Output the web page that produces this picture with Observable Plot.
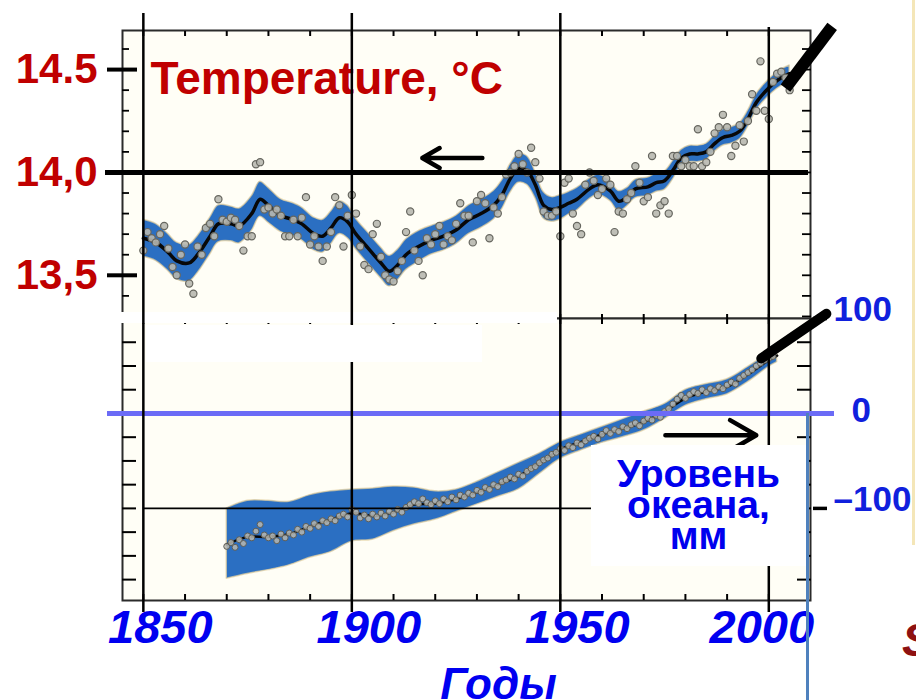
<!DOCTYPE html>
<html>
<head>
<meta charset="utf-8">
<script src="https://cdn.jsdelivr.net/npm/d3@7"></script>
<script src="https://cdn.jsdelivr.net/npm/@observablehq/plot@0.6"></script>
<style>
  html, body { margin: 0; padding: 0; background: #fff; }
  #wrap { position: relative; width: 916px; height: 700px; overflow: hidden; font-family: "Liberation Sans", Arial, sans-serif; }
  #wrap svg { position: absolute; left: 0; top: 0; }
  .ov { position: absolute; }
  .white { background: #fff; }
  #seaBox { left: 591px; top: 445px; width: 215px; height: 121px; background: #fff; color: #0000ee;
            font: bold 39px/31px "Liberation Sans", Arial, sans-serif; text-align: center; padding-top: 13px; box-sizing: border-box; }
  #blueEdge { left: 806px; top: 413px; width: 3px; height: 287px; background: #4f81bd; }
  #beige { left: 912px; top: 0; width: 3px; height: 545px; background: #f4e6b8; }
  #cutS { left: 902px; top: 612px; color: #8e1111; font: italic bold 47px "Liberation Sans", Arial, sans-serif; }
</style>
</head>
<body>
<div id="wrap"></div>
<script>
// ================= DATA =================
// Years shown along the shared time axis
const gridYears = [1850, 1900, 1950, 2000];
const decadeTicks = [1850, 1860, 1870, 1880, 1890, 1900, 1910, 1920, 1930, 1940, 1950, 1960, 1970, 1980, 1990, 2000];

// Temperature panel (°C)
const tempTicks = [13.5, 14.0, 14.5];
const tempTickLabels = ["13,5", "14,0", "14.5"];
const tempMinorTicks = [13.3, 13.4, 13.5, 13.6, 13.7, 13.8, 13.9, 14.0, 14.1, 14.2, 14.3, 14.4, 14.5, 14.6];
const tempYears = d3.range(1850, 2006);
const tempAnnual = [
  13.62,13.71,13.68,13.66,13.70,13.74,13.63,13.54,13.50,13.60,
  13.65,13.46,13.41,13.64,13.60,13.73,13.75,13.69,13.87,13.77,
  13.76,13.78,13.77,13.74,13.62,13.69,13.69,14.04,14.05,13.82,
  13.83,13.80,13.82,13.79,13.69,13.69,13.77,13.69,13.78,13.88,
  13.65,13.69,13.64,13.57,13.64,13.71,13.88,13.84,13.64,13.79,
  13.89,13.80,13.64,13.55,13.53,13.70,13.75,13.59,13.50,13.48,
  13.47,13.52,13.57,13.71,13.81,13.62,13.57,13.50,13.68,13.65,
  13.70,13.74,13.65,13.69,13.67,13.75,13.85,13.79,13.79,13.66,
  13.86,13.89,13.85,13.68,13.83,13.80,13.88,13.99,14.00,14.03,
  14.09,14.04,14.00,14.12,14.05,13.97,13.81,13.79,13.79,13.81,
  13.69,13.95,13.97,13.80,13.74,13.70,13.94,14.00,13.96,13.89,
  13.92,13.97,13.94,13.71,13.81,13.80,13.87,13.90,14.03,13.95,
  13.86,13.88,14.08,13.80,13.84,13.86,13.80,14.08,14.08,14.03,
  14.06,14.03,14.03,14.21,14.03,14.05,14.10,14.19,14.22,14.28,
  14.22,14.08,14.13,14.23,14.15,14.25,14.38,14.30,14.54,14.30,
  14.26,14.44,14.48,14.49,14.46,14.40
];
const tempSmoothYears = [
  1850,1853,1856,1858,1861,1863,1866,1868,1871,1873,
  1876,1878,1880,1883,1886,1888,1891,1893,1895,1897,
  1899,1901,1904,1907,1909,1911,1913,1916,1919,1922,
  1925,1928,1931,1934,1936,1938,1940,1942,1944,1946,
  1948,1950,1952,1954,1957,1959,1962,1964,1966,1968,
  1971,1973,1975,1977,1979,1981,1983,1985,1987,1989,
  1991,1993,1995,1997,1999,2001,2003,2005
];
const tempSmooth = [
  13.68,13.66,13.61,13.57,13.56,13.60,13.69,13.75,13.75,13.74,
  13.80,13.87,13.84,13.79,13.77,13.75,13.70,13.69,13.73,13.78,
  13.76,13.70,13.63,13.56,13.52,13.55,13.60,13.64,13.67,13.69,
  13.72,13.77,13.80,13.84,13.89,13.97,14.02,14.01,13.94,13.84,
  13.82,13.83,13.85,13.87,13.92,13.94,13.91,13.86,13.88,13.92,
  13.93,13.95,13.96,14.01,14.07,14.09,14.09,14.10,14.14,14.17,
  14.18,14.20,14.26,14.34,14.39,14.43,14.46,14.48
];
const tempSpread = [
  0.09,0.09,0.09,0.09,0.09,0.09,0.09,0.09,0.085,0.085,
  0.085,0.085,0.085,0.08,0.08,0.08,0.08,0.08,0.08,0.08,
  0.08,0.075,0.075,0.075,0.075,0.075,0.075,0.075,0.07,0.07,
  0.07,0.07,0.07,0.07,0.07,0.07,0.07,0.07,0.065,0.065,
  0.06,0.06,0.055,0.055,0.05,0.05,0.05,0.05,0.045,0.045,
  0.045,0.045,0.045,0.045,0.04,0.04,0.04,0.04,0.04,0.04,
  0.04,0.04,0.04,0.04,0.04,0.04,0.04,0.04
];

// Sea level panel (mm)
const seaLabelValues = [100, -100];
const seaLabelTexts = ["100", "\u2013100"];
const seaZeroLabel = ["0"];
const seaMinorTicks = [-175, -150, -125, -100, -75, -50, -25, 0, 25, 50, 75];
const seaYears = d3.range(1870, 2002);
const seaAnnual = [
  -140,-136,-141,-133,-137,-129,-131,-124,-117,-128,
  -131,-129,-134,-127,-131,-126,-128,-122,-125,-119,
  -121,-116,-119,-113,-115,-111,-113,-108,-106,-109,
  -101,-104,-110,-107,-111,-106,-109,-105,-108,-103,
  -106,-101,-104,-99,-96,-93,-95,-90,-94,-96,
  -92,-95,-90,-93,-88,-91,-86,-88,-84,-86,
  -81,-83,-78,-80,-75,-77,-72,-70,-67,-69,
  -64,-66,-61,-58,-56,-52,-49,-47,-43,-41,
  -37,-39,-34,-36,-31,-33,-29,-26,-24,-27,
  -22,-18,-21,-17,-19,-14,-16,-12,-10,-13,
  -8,-5,-7,-2,-4,2,5,10,15,19,
  16,20,23,21,25,22,26,24,28,26,
  30,33,31,37,40,43,46,50,53,56,
  58,60
];
const seaSmoothYears = [1870,1875,1880,1885,1890,1895,1900,1905,1910,1915,1920,1925,1930,1935,1940,1945,1950,1955,1960,1965,1970,1975,1980,1985,1990,1995,2000,2002];
const seaSmooth =      [-138,-130,-130,-127,-119,-112,-105,-108,-104,-96,-95,-90,-83,-75,-66,-52,-38,-30,-22,-16,-9,2,16,23,28,41,56,61];
const seaHigh =        [-100,-92,-92,-93,-86,-82,-80,-79,-77,-78,-82,-80,-72,-62,-52,-42,-30,-22,-14,-6,2,10,25,31,36,49,63,68];
const seaLow =         [-174,-169,-165,-160,-152,-146,-135,-133,-124,-117,-112,-104,-96,-88,-80,-64,-48,-39,-31,-25,-18,-6,8,15,20,33,49,54];

// Annotations (in data units of each panel)
const tempArrow = [{from: 1931.3, to: 1916.9, at: 14.07}];
const tempPointer = [{x1: 2004.0, y1: 14.41, x2: 2015.2, y2: 14.71}];
const seaArrow = [{from: 1975.2, to: 1997.0, at: -23}];
const seaPointer = [{x1: 1998.2, y1: 58, x2: 2013.8, y2: 105}];
const seaRefLine = [{v: -100, from: 1850, to: 1960}];

// ================= TABLES =================
const tempPts = tempYears.map((year, i) => ({year, t: tempAnnual[i]}));
const tempCurve = tempSmoothYears.map((year, i) => ({year, t: tempSmooth[i], lo: tempSmooth[i] - tempSpread[i], hi: tempSmooth[i] + tempSpread[i]}));
const tempLabels = tempTicks.map((v, i) => ({v, label: tempTickLabels[i]}));
const seaPts = seaYears.map((year, i) => ({year, s: seaAnnual[i]}));
const seaCurve = seaSmoothYears.map((year, i) => ({year, s: seaSmooth[i], lo: seaLow[i], hi: seaHigh[i]}));
const seaLabels = seaLabelValues.map((v, i) => ({v, label: seaLabelTexts[i]}));

// ================= STYLE =================
const W = 916, H = 700;
const FONT = "Liberation Sans, Arial, sans-serif";
const CREAM = "#fffef6";
const BAND = "#2b6fc2";
const RED = "#c00000";
const BLUE = "#0000f0";
const BLUE2 = "#1020dd";
const svgStyle = {background: "transparent", fontFamily: FONT, overflow: "visible"};
const common = {width: W, height: H, marginLeft: 122, marginRight: 106};
const xOpt = {domain: [1845, 2010], axis: null};
const noText = () => "";

// ----- Top: temperature -----
const chartA = Plot.plot({
  ...common, marginTop: 30, marginBottom: 382,
  x: xOpt,
  y: {domain: [13.29, 14.69], axis: null},
  style: svgStyle,
  marks: [
    Plot.frame({fill: CREAM, stroke: "none"}),
    Plot.areaY(tempCurve, {x: "year", y1: "lo", y2: "hi", fill: BAND, stroke: "#e3cf9c", strokeWidth: 1.5, strokeOpacity: 0.7, curve: "catmull-rom"}),
    Plot.lineY(tempCurve, {x: "year", y: "t", stroke: "#080808", strokeWidth: 3.5, curve: "catmull-rom"}),
    Plot.dot(tempPts, {x: "year", y: "t", r: 3.6, fill: "#b8b8b0", fillOpacity: 0.9, stroke: "#66665f", strokeWidth: 1.2}),
    Plot.frame({stroke: "#2b2b2b", strokeWidth: 2}),
    Plot.axisX(decadeTicks, {anchor: "top", tickSize: 5, dy: 5, tickFormat: noText, strokeWidth: 2}),
    Plot.axisY(tempMinorTicks, {anchor: "left", tickSize: 7, dx: 7, tickFormat: noText, strokeWidth: 1.8}),
    Plot.axisY(tempMinorTicks, {anchor: "right", tickSize: 9, dx: -9, tickFormat: noText, strokeWidth: 1.8}),
    Plot.ruleY([14.0], {insetLeft: -17, insetRight: 2, stroke: "#000", strokeWidth: 5}),
    Plot.axisY(tempTicks, {anchor: "left", tickSize: 30, dx: 15, tickFormat: noText, strokeWidth: 4, stroke: "#000"}),
    Plot.text(tempLabels, {y: "v", text: "label", frameAnchor: "left", dx: -25, textAnchor: "end",
      fill: RED, fontSize: 42, fontWeight: "bold", fontFamily: FONT}),
    Plot.text(["Temperature, \u00B0C"], {text: d => d, frameAnchor: "top-left", dx: 28, dy: 63, textAnchor: "start", lineAnchor: "bottom",
      fill: RED, fontSize: 46, fontWeight: "bold", fontFamily: FONT}),
    Plot.arrow(tempArrow, {x1: "from", x2: "to", y1: "at", y2: "at", stroke: "#000", strokeWidth: 4.5, headLength: 22, headAngle: 60}),
    Plot.link(tempPointer, {x1: "x1", y1: "y1", x2: "x2", y2: "y2", stroke: "#000", strokeWidth: 12})
  ]
});

// ----- Bottom: sea level -----
const seaY = {domain: [-197, 100], axis: null};
const chartB = Plot.plot({
  ...common, marginTop: 318, marginBottom: 100,
  x: xOpt,
  y: seaY,
  style: svgStyle,
  marks: [
    Plot.frame({fill: CREAM, stroke: "none"}),
    Plot.areaY(seaCurve, {x: "year", y1: "lo", y2: "hi", fill: BAND, stroke: "#e3cf9c", strokeWidth: 1.5, strokeOpacity: 0.7, curve: "catmull-rom"}),
    Plot.lineY(seaCurve, {x: "year", y: "s", stroke: "#080808", strokeWidth: 2.5, curve: "catmull-rom"}),
    Plot.dot(seaPts, {x: "year", y: "s", r: 3, fill: "#b8b8b0", fillOpacity: 0.85, stroke: "#5e5e58", strokeWidth: 1}),
    Plot.frame({stroke: "#2b2b2b", strokeWidth: 2}),
    Plot.axisX(decadeTicks, {anchor: "top", tickSize: 10, dy: 5, tickFormat: noText, strokeWidth: 2}),
    Plot.axisX(decadeTicks, {anchor: "bottom", tickSize: 6, dy: -6, tickFormat: noText, strokeWidth: 2}),
    Plot.axisY(seaMinorTicks, {anchor: "left", tickSize: 14, dx: 14, tickFormat: noText, strokeWidth: 2}),
    Plot.axisY(seaMinorTicks, {anchor: "right", tickSize: 14, dx: -14, tickFormat: noText, strokeWidth: 2}),
    Plot.axisY(seaLabelValues, {anchor: "right", tickSize: 14, dx: 2, tickFormat: noText, strokeWidth: 3.5, stroke: "#000"}),
    Plot.ruleY(seaRefLine, {y: "v", x1: "from", x2: "to", stroke: "#000", strokeWidth: 1.8}),
    Plot.ruleY([0], {insetLeft: -15, insetRight: -24, stroke: "#6b6bf6", strokeWidth: 5}),
    Plot.text(seaLabels, {y: "v", text: "label", frameAnchor: "right", dx: 23, dy: -9, textAnchor: "start",
      fill: BLUE2, fontSize: 35, fontWeight: "bold", fontFamily: FONT}),
    Plot.text(seaZeroLabel, {y: () => 0, text: d => d, frameAnchor: "right", dx: 41, dy: -3, textAnchor: "start",
      fill: BLUE2, fontSize: 35, fontWeight: "bold", fontFamily: FONT}),
    Plot.text(gridYears.slice(0, 3), {x: d => d, text: d => String(d), frameAnchor: "bottom", dx: 17, dy: 42,
      fill: BLUE, fontSize: 47, fontWeight: "bold", fontStyle: "italic", fontFamily: FONT}),
    Plot.text(gridYears.slice(3), {x: d => d, text: d => String(d), frameAnchor: "bottom", dx: -7, dy: 42,
      fill: BLUE, fontSize: 47, fontWeight: "bold", fontStyle: "italic", fontFamily: FONT}),
    Plot.text(["\u0413\u043E\u0434\u044B"], {text: d => d, frameAnchor: "bottom", dx: 32, dy: 98, lineAnchor: "bottom",
      fill: BLUE, fontSize: 44, fontWeight: "bold", fontStyle: "italic", fontFamily: FONT}),
    Plot.arrow(seaArrow, {x1: "from", x2: "to", y1: "at", y2: "at", stroke: "#000", strokeWidth: 4.5, headLength: 22, headAngle: 60}),
    Plot.link(seaPointer, {x1: "x1", y1: "y1", x2: "x2", y2: "y2", stroke: "#000", strokeWidth: 10, strokeLinecap: "round"})
  ]
});

// ----- Overlay: year grid lines spanning both panels -----
const chartC = Plot.plot({
  ...common, marginTop: 318, marginBottom: 100,
  x: xOpt,
  y: seaY,
  style: svgStyle,
  marks: [
    Plot.ruleX(gridYears.slice(0, 3), {insetTop: -305, insetBottom: -12, stroke: "#000", strokeWidth: 2.5}),
    Plot.ruleX(gridYears.slice(3), {insetTop: -291, insetBottom: -12, stroke: "#000", strokeWidth: 2.5})
  ]
});

// ================= ASSEMBLY =================
const wrap = document.getElementById("wrap");
function div(cls, id, css, html) {
  const d = document.createElement("div");
  d.className = cls;
  if (id) d.id = id;
  if (css) d.style.cssText = css;
  if (html) d.innerHTML = html;
  return d;
}
wrap.appendChild(chartA);
wrap.appendChild(chartB);
wrap.appendChild(div("ov white", null, "left:120px;top:312px;width:437px;height:11px;"));
wrap.appendChild(chartC);
wrap.appendChild(div("ov white", null, "left:146px;top:325px;width:336px;height:37px;"));
wrap.appendChild(div("ov", "seaBox", null, "\u0423\u0440\u043E\u0432\u0435\u043D\u044C<br>\u043E\u043A\u0435\u0430\u043D\u0430,<br>\u043C\u043C"));
wrap.appendChild(div("ov", "blueEdge"));
wrap.appendChild(div("ov", "beige"));
wrap.appendChild(div("ov", "cutS", null, "S"));
</script>
</body>
</html>
